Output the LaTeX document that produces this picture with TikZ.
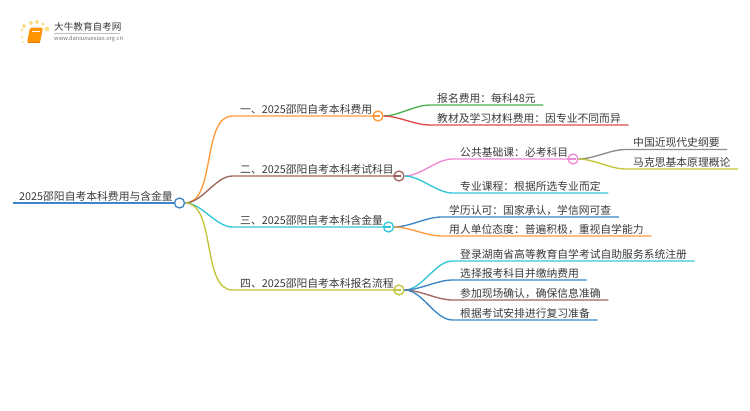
\documentclass[tikz,border=0pt]{standalone}
\usepackage{fontspec}
\setmainfont{Noto Sans CJK SC}
\usetikzlibrary{positioning,calc}
\definecolor{txt}{HTML}{3A3A3A}
\definecolor{cblue}{HTML}{3B86C6}
\definecolor{corange}{HTML}{FF9A3C}
\definecolor{cbrown}{HTML}{A0665C}
\definecolor{ccyan}{HTML}{33C6D8}
\definecolor{colive}{HTML}{C4C43A}
\definecolor{cgreen}{HTML}{4CB050}
\definecolor{cred}{HTML}{E04B4B}
\definecolor{cpink}{HTML}{EE8AD6}
\definecolor{cgray}{HTML}{8C8C8C}
\definecolor{dotc}{HTML}{FBDD8A}
\tikzset{lab/.style={anchor=south west,inner xsep=7.5pt,inner ysep=0pt,text height=9.5pt,text depth=2.5pt,text=txt,font=\fontsize{10.8}{12}\selectfont},
 hub/.style={draw=#1,circle,fill=white,line width=1.3pt,minimum size=10pt,inner sep=0pt},
 dot/.style={fill=dotc,circle,inner sep=0pt,minimum size=#1}}
\newcommand{\link}[3]{\draw[#3,line width=1.35pt] (#1.east) to[out=0,in=180,looseness=0.8] (#2.south west)--(#2.south east);}
\begin{document}
\begin{tikzpicture}[x=1pt,y=-1pt]
\path[use as bounding box](0,0) rectangle (750,410);
% logo
\node[dot=4pt] at(24,26){};\node[dot=4pt] at(31,23){};\node[dot=4pt] at(37,22){};
\node[dot=3.5pt] at(43,24){};\node[dot=5pt] at(47,29){};\node[dot=3pt] at(22,30){};
\node[dot=2.5pt] at(22,37){};\node[dot=2pt] at(23,42){};
\fill[orange!85!yellow,rounded corners=1.5pt](30,27.5)--(43,27.5)--(40,42.5)--(27,42.5)--cycle;
\draw[white,line width=0.8pt](32,31.5)--(39.5,31.5);
\draw[orange!90!black,line width=0.9pt](27.5,42)--(40,42);
\node[anchor=west,inner sep=0pt,text=txt,font=\fontsize{9.6}{11}\selectfont](logo) at(54,27){大牛教育自考网};
\draw[black!25,line width=0.5pt](54,33)--(120,33);
\node[anchor=west,inner sep=0pt,text=black!55,font=\fontsize{5.7}{7}\selectfont](url) at(54,38.5){www.daniuxuexiao.org.cn};
% root
\node[lab,inner xsep=6pt](root) at(13,203){2025邵阳自考本科费用与含金量};
\node[hub=cblue](r) at(179.5,203){};
\draw[cblue,line width=2.2pt](root.south west)--(r.west);
% hubs
\node[lab](a) at(232.5,116){一、2025邵阳自考本科费用};
\node[hub=corange](a0) at(378,116){};
\node[lab](b) at(232.5,176){二、2025邵阳自考本科考试科目};
\node[hub=cbrown](b0) at(399,176){};
\node[lab](c) at(232.5,227){三、2025邵阳自考本科含金量};
\node[hub=ccyan](c0) at(388.5,227){};
\node[lab](d) at(232.5,290){四、2025邵阳自考本科报名流程};
\node[hub=colive](d0) at(399,290){};
\link{r}{a}{corange}\link{r}{b}{cbrown}\link{r}{c}{ccyan}\link{r}{d}{colive}
\draw[corange,line width=1.35pt](a.south east)--(a0.west);
\draw[cbrown,line width=1.35pt](b.south east)--(b0.west);
\draw[ccyan,line width=1.35pt](c.south east)--(c0.west);
\draw[colive,line width=1.35pt](d.south east)--(d0.west);
% leaves
\node[lab](a1) at(429.5,105){报名费用：每科48元};
\node[lab](a2) at(429.5,125){教材及学习材料费用：因专业不同而异};
\link{a0}{a1}{cgreen}\link{a0}{a2}{cred}
\node[lab](b1) at(452.5,159){公共基础课：必考科目};
\node[hub=cpink](b10) at(573,159){};
\node[lab](b2) at(452.5,193){专业课程：根据所选专业而定};
\link{b0}{b1}{cpink}\link{b0}{b2}{ccyan}
\draw[cpink,line width=1.35pt](b1.south east)--(b10.west);
\node[lab](e1) at(625.5,149.5){中国近现代史纲要};
\node[lab](e2) at(625.5,169){马克思基本原理概论};
\link{b10}{e1}{cgray}\link{b10}{e2}{colive}
\node[lab](c1) at(441.5,217){学历认可：国家承认，学信网可查};
\node[lab](c2) at(441.5,236){用人单位态度：普遍积极，重视自学能力};
\link{c0}{c1}{cblue}\link{c0}{c2}{corange}
\node[lab](d1) at(452.5,261){登录湖南省高等教育自学考试自助服务系统注册};
\node[lab](d2) at(452.5,280){选择报考科目并缴纳费用};
\node[lab](d3) at(452.5,300){参加现场确认，确保信息准确};
\node[lab](d4) at(452.5,320){根据考试安排进行复习准备};
\link{d0}{d1}{ccyan}\link{d0}{d2}{cblue}\link{d0}{d3}{cbrown}\link{d0}{d4}{cblue}
\end{tikzpicture}
\end{document}
